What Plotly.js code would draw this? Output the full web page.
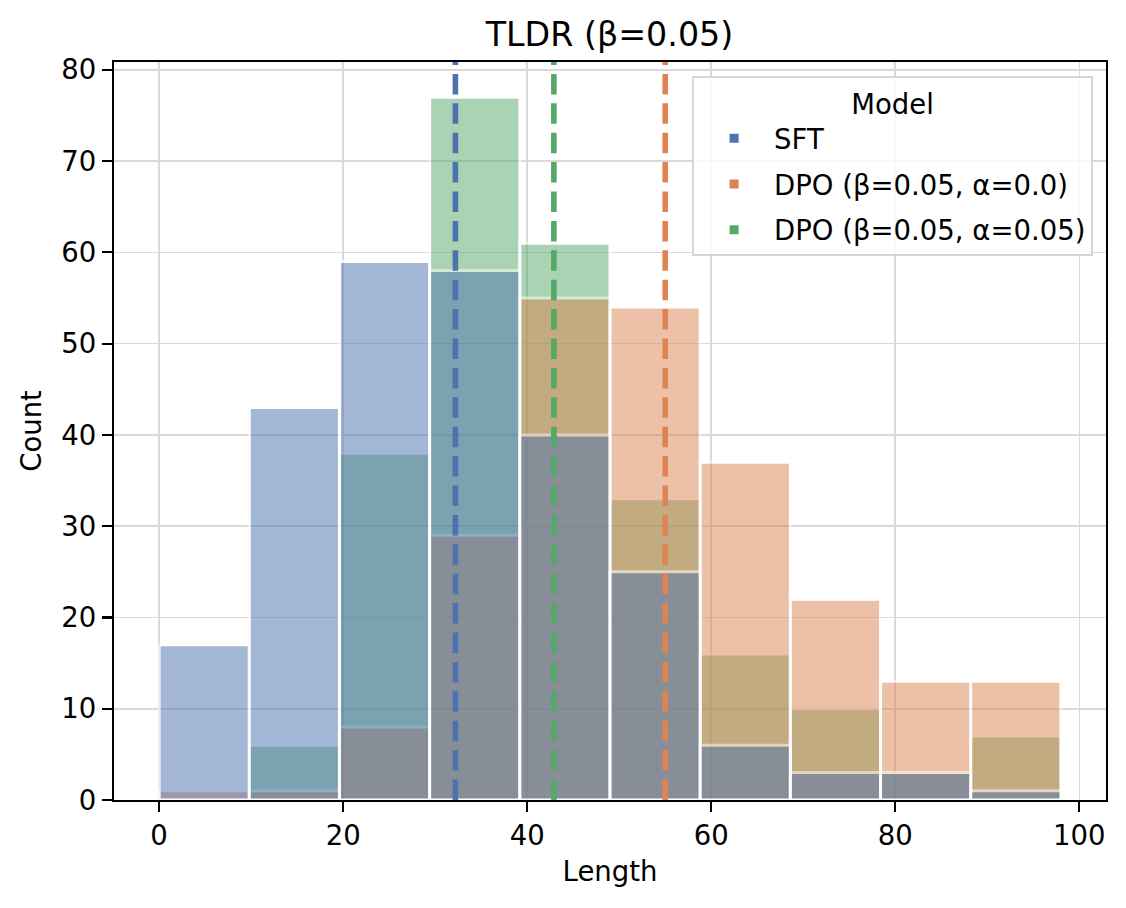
<!DOCTYPE html>
<html><head><meta charset="utf-8">
<script src="https://cdn.plot.ly/plotly-3.0.1.min.js"></script>
<style>html,body{margin:0;padding:0;background:#fff}#chart{width:1126px;height:908px}</style>
</head><body><div id="chart"></div>
<script>
// Histogram bins (centres) and width
const binCenters = [4.9, 14.7, 24.5, 34.3, 44.1, 53.9, 63.7, 73.5, 83.3, 93.1];
const binWidth = 9.8;
// Series
const seriesNames = ['SFT', 'DPO (β=0.05, α=0.0)', 'DPO (β=0.05, α=0.05)'];
const sftCounts = [17, 43, 59, 58, 40, 25, 6, 3, 3, 1];
const dpoA0Counts = [1, 1, 8, 29, 55, 54, 37, 22, 13, 13];
const dpoA005Counts = [0, 6, 38, 77, 61, 33, 16, 10, 3, 7];
// Mean length per series (dashed lines)
const meanLengths = [32.2, 55.0, 42.9];
const seriesColors = ['#4c72b0', '#dd8452', '#55a868'];
// Ticks
const xTicks = [0, 20, 40, 60, 80, 100];
const yTicks = [0, 10, 20, 30, 40, 50, 60, 70, 80];

const FONT = 'DejaVu Sans, Liberation Sans, sans-serif';
const FS = 27.5;
const allCounts = [sftCounts, dpoA0Counts, dpoA005Counts];

// draw last series first so that SFT ends up on top (seaborn layer order)
const traces = [];
for (let i = allCounts.length - 1; i >= 0; i--) {
  traces.push({
    type: 'bar',
    x: binCenters,
    y: allCounts[i],
    width: binCenters.map(() => binWidth),
    name: seriesNames[i],
    legendgroup: 'g' + i,
    legendrank: i + 1,
    marker: {color: seriesColors[i], opacity: 0.5, line: {color: '#ffffff', width: 3}},
    hoverinfo: 'x+y+name'
  });
}

const shapes = meanLengths.map((m, i) => ({
  type: 'line', xref: 'x', yref: 'paper', x0: m, x1: m, y0: 0, y1: 1,
  line: {color: seriesColors[i], width: 5.6, dash: '20.5px,8.9px'},
  layer: 'above'
}));

const axisCommon = {
  showline: true, linecolor: '#000', linewidth: 2.2, mirror: true,
  ticks: 'outside', ticklen: 10, tickwidth: 2.2, tickcolor: '#000',
  showgrid: true, gridcolor: '#d9d9d9', gridwidth: 1.6,
  zeroline: false,
  tickfont: {family: FONT, size: FS, color: '#000'}
};

const layout = {
  width: 1126, height: 908,
  margin: {l: 114, r: 20, t: 62, b: 108},
  paper_bgcolor: '#fff', plot_bgcolor: '#fff',
  font: {family: FONT, size: FS, color: '#000'},
  barmode: 'overlay', bargap: 0,
  title: {text: 'TLDR (β=0.05)', font: {family: FONT, size: 33.3, color: '#000'},
          x: 0.5413, xanchor: 'center', y: 1 - 34 / 908, yanchor: 'middle'},
  xaxis: Object.assign({}, axisCommon, {
    range: [-4.9, 102.9], tickmode: 'array', tickvals: xTicks,
    title: {text: 'Length', font: {family: FONT, size: FS, color: '#000'}, standoff: 12}
  }),
  yaxis: Object.assign({}, axisCommon, {
    range: [0, 80.85], tickmode: 'array', tickvals: yTicks,
    title: {text: 'Count', font: {family: FONT, size: FS, color: '#000'}, standoff: 12}
  }),
  legend: {
    x: 0.987, xanchor: 'right', y: 0.981, yanchor: 'top',
    bgcolor: 'rgba(255,255,255,0.8)', bordercolor: '#d6d6d6', borderwidth: 2,
    font: {family: FONT, size: FS, color: '#000'},
    title: {text: 'Model', side: 'top center', font: {family: FONT, size: FS, color: '#000'}},
    traceorder: 'grouped', tracegroupgap: 7, itemwidth: 70
  },
  shapes: shapes,
  showlegend: true
};

Plotly.newPlot('chart', traces, layout, {displayModeBar: false, staticPlot: true});
</script>
</body></html>
